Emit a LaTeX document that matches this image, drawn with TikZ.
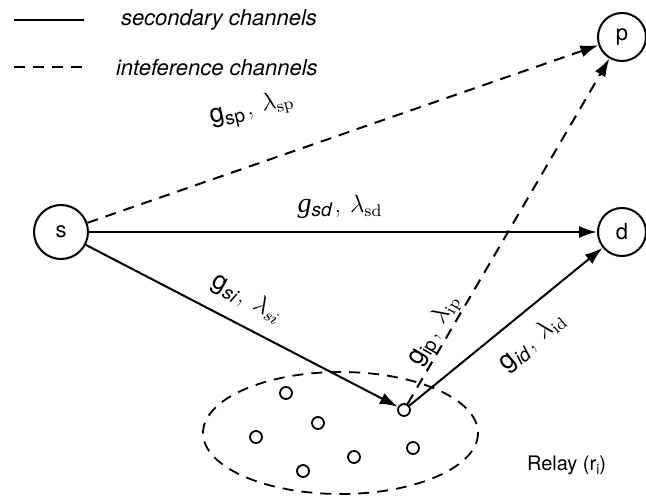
\documentclass[tikz,border=0pt]{standalone}
\usepackage{graphicx}
\usepackage{fontspec}
\newfontfamily\hv{TeX Gyre Heros}
\newfontfamily\tms{Liberation Serif}
\usetikzlibrary{arrows.meta}
\newcommand{\lam}[2]{\scalebox{2.1}{\fontsize{12}{14}\selectfont$\lambda_{#1{#2}}$}}
\newcommand{\cm}{\hspace{3pt},\hspace{9pt}}
\newcommand{\glab}[4]{{\hv#1g\raisebox{-0.35ex}{\fontsize{19}{19}\selectfont#2}}\cm\lam{#3}{#4}}
\begin{document}
\begin{tikzpicture}[x=1pt,y=-1pt,line width=2pt,
  nd/.style={circle,draw,minimum size=48pt,inner sep=0pt,font=\hv\fontsize{22}{22}\selectfont},
  rl/.style={circle,draw,line width=1.8pt,minimum size=12pt,inner sep=0pt},
  arr/.style={-{Latex[length=18pt,width=12pt]}},
  dsh/.style={dash pattern=on 11pt off 8pt},
  lab/.style={font=\fontsize{26}{30}\selectfont,inner sep=1pt},
  leg/.style={anchor=west,font=\hv\itshape\fontsize{22}{24}\selectfont,inner sep=0pt}]
\useasboundingbox (0,0) rectangle (646,500);
% legend
\coordinate (l1a) at (14,20); \coordinate (l1b) at (84,20);
\coordinate (l2a) at (14,67); \coordinate (l2b) at (84,67);
\draw (l1a) -- (l1b);
\draw[dsh] (l2a) -- (l2b);
\node[leg] (t1) at (120,20) {secondary channels};
\node[leg] (t2) at (115,68) {inteference channels};
% nodes
\node[nd,minimum size=54pt] (s) at (61,232) {s};
\node[nd] (p) at (622,37) {p};
\node[nd] (d) at (622,232) {d};
\node[rl] (r) at (404,410) {};
% relay cluster
\draw[dsh,line width=1.8pt] (340.5,433) ellipse [x radius=137.5, y radius=61];
\node[rl] (r1) at (286,393) {};
\node[rl] (r2) at (318,423) {};
\node[rl] (r3) at (256,437) {};
\node[rl] (r4) at (354,457) {};
\node[rl] (r5) at (303,471) {};
\node[rl] (r6) at (413,448) {};
% edges
\draw[arr,dsh] (s) -- (p);
\draw[arr] (s) -- (d);
\draw[arr] (s) -- (r);
\draw[arr,dsh] (r) -- (p);
\draw[arr] (r) -- (d);
% labels
\node[lab,rotate=13] (lsp) at (252,110) {\glab{}{sp}{\mathrm}{sp}};
\node[lab] (lsd) at (340,207) {{\tms\itshape\fontsize{28}{30}\selectfont g}\raisebox{-0.35ex}{\hv\itshape\fontsize{19}{19}\selectfont sd}\cm\lam{\mathrm}{sd}};
\node[lab,rotate=-29] (lsi) at (247,299) {\glab{}{\itshape si}{}{si}};
\node[lab,rotate=60] (lip) at (435,331) {\glab{}{ip}{\mathrm}{ip}};
\node[lab,rotate=40] (lid) at (533,342) {\glab{}{\itshape id}{\mathrm}{id}};
\node[anchor=west,font=\hv\fontsize{20}{24}\selectfont,inner sep=0pt] (rel) at (526,465) {Relay (r\raisebox{-0.4ex}{\fontsize{14}{14}\selectfont i})};
\end{tikzpicture}
\end{document}
